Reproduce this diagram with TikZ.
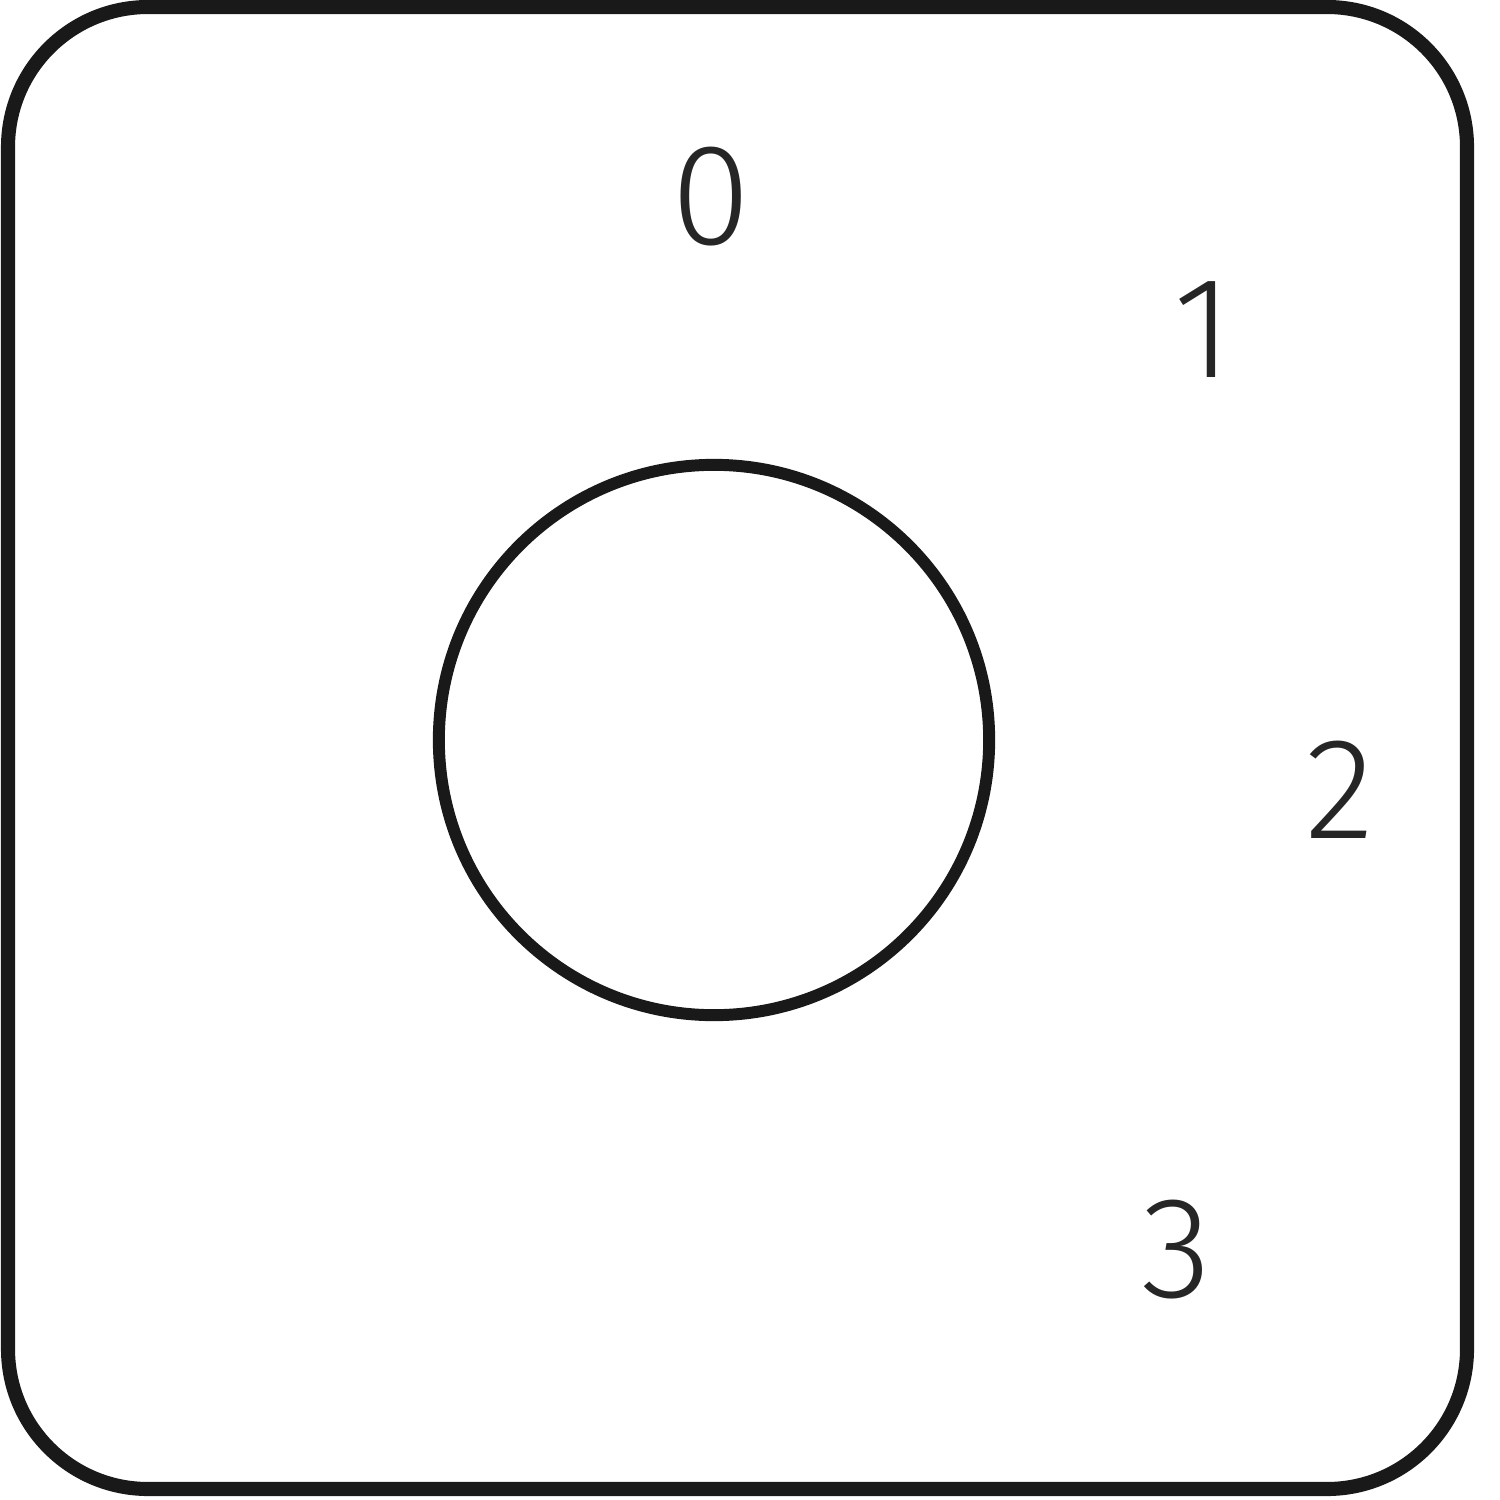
\documentclass[tikz,border=0pt]{standalone}
\usepackage{fontspec}
\setmainfont{Fira Sans Light}
\begin{document}
\begin{tikzpicture}[x=0.01cm,y=-0.01cm,
  frame/.style={draw=black!90,line width=4pt,rounded corners=1.4cm},
  knob/.style={draw=black!90,line width=3.4pt,circle,minimum size=5.5cm,inner sep=0pt},
  lbl/.style={font=\fontsize{41}{44}\selectfont,text=black!85}]
\useasboundingbox (0,0) rectangle (1500,1500);
\draw[frame] (8,7) rectangle (1467,1489);
\node[knob] (k) at (714,740) {};
\node[lbl] (l0) at (711,197) {0};
\node[lbl] (l1) at (1203,330) {1};
\node[lbl] (l2) at (1340,790) {2};
\node[lbl] (l3) at (1177,1250) {3};
\end{tikzpicture}
\end{document}
